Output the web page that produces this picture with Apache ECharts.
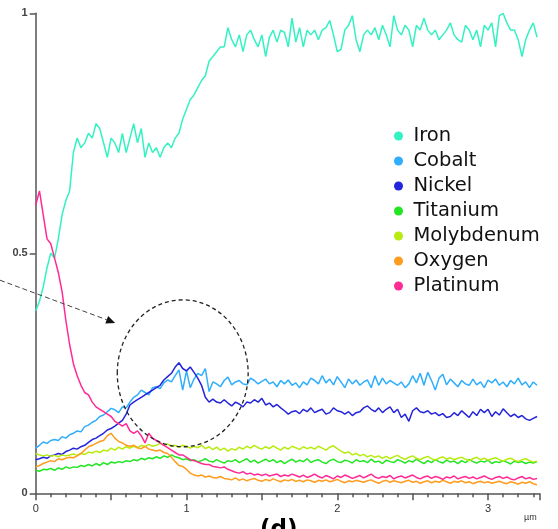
<!DOCTYPE html>
<html>
<head>
  <meta charset="utf-8">
  <title>Line scan profile</title>
  <script src="https://cdn.jsdelivr.net/npm/echarts@6/dist/echarts.min.js"></script>
  <style>
    html, body { margin: 0; padding: 0; background: #fff; }
  </style>
</head>
<body>
  <div id="main" style="width: 558px; height: 529px;"></div>

  <script>
    // sample spacing along the scan (µm)
    var step = 0.025;

    var names = ['Iron', 'Cobalt', 'Nickel', 'Titanium', 'Molybdenum', 'Oxygen', 'Platinum'];
    var colors = ['#33f2c2', '#2eaefc', '#2424dc', '#22e622', '#b8ec10', '#ff9c1e', '#ff2a96'];

    var iron = [0.38,0.40,0.43,0.47,0.50,0.49,0.53,0.58,0.61,0.63,
      0.71,0.74,0.72,0.73,0.75,0.74,0.77,0.76,0.73,0.70,
      0.74,0.73,0.71,0.75,0.71,0.74,0.77,0.73,0.76,0.70,
      0.73,0.71,0.72,0.70,0.72,0.73,0.72,0.74,0.75,0.78,
      0.80,0.82,0.83,0.845,0.86,0.87,0.90,0.91,0.92,0.93,
      0.93,0.97,0.945,0.93,0.955,0.92,0.955,0.965,0.945,0.93,
      0.955,0.91,0.95,0.965,0.94,0.965,0.96,0.93,0.99,0.94,
      0.97,0.93,0.965,0.955,0.965,0.945,0.965,0.97,0.985,0.955,
      0.92,0.925,0.965,0.975,0.995,0.945,0.92,0.955,0.965,0.955,
      0.97,0.945,0.975,0.955,0.93,0.995,0.965,0.955,0.975,0.965,
      0.93,0.975,0.965,0.99,0.965,0.955,0.965,0.945,0.955,0.965,
      0.98,0.955,0.945,0.94,0.975,0.965,0.945,0.965,0.93,0.975,
      0.965,0.98,0.93,0.995,1.0,0.98,0.965,0.965,0.945,0.91,
      0.945,0.965,0.98,0.95];

    var cobalt = [0.094,0.10,0.107,0.104,0.11,0.112,0.11,0.118,0.115,0.122,
      0.125,0.13,0.128,0.139,0.142,0.148,0.152,0.16,0.163,0.17,
      0.177,0.174,0.168,0.18,0.178,0.19,0.20,0.205,0.215,0.21,
      0.205,0.22,0.222,0.218,0.23,0.236,0.232,0.245,0.257,0.215,
      0.255,0.22,0.238,0.25,0.245,0.26,0.212,0.232,0.228,0.222,
      0.235,0.242,0.226,0.232,0.235,0.228,0.226,0.24,0.235,0.228,
      0.233,0.238,0.228,0.232,0.222,0.235,0.228,0.236,0.225,0.23,
      0.22,0.232,0.226,0.24,0.235,0.228,0.245,0.23,0.238,0.226,
      0.243,0.232,0.22,0.238,0.228,0.236,0.225,0.232,0.236,0.22,
      0.245,0.225,0.24,0.228,0.235,0.23,0.225,0.232,0.22,0.228,
      0.245,0.23,0.25,0.225,0.252,0.235,0.215,0.24,0.248,0.226,
      0.238,0.23,0.222,0.235,0.228,0.225,0.238,0.226,0.232,0.22,
      0.236,0.23,0.238,0.225,0.232,0.222,0.235,0.228,0.24,0.226,
      0.232,0.22,0.232,0.225];

    var nickel = [0.07,0.072,0.075,0.073,0.078,0.08,0.083,0.081,0.087,0.09,
      0.094,0.092,0.097,0.10,0.106,0.112,0.115,0.12,0.125,0.132,
      0.135,0.14,0.146,0.152,0.165,0.184,0.19,0.195,0.20,0.205,
      0.21,0.215,0.22,0.225,0.236,0.243,0.25,0.263,0.272,0.26,
      0.255,0.263,0.252,0.24,0.225,0.20,0.19,0.196,0.19,0.188,
      0.195,0.188,0.182,0.19,0.186,0.18,0.19,0.188,0.195,0.19,
      0.198,0.184,0.188,0.18,0.185,0.178,0.172,0.165,0.17,0.172,
      0.166,0.175,0.17,0.178,0.168,0.172,0.175,0.165,0.168,0.178,
      0.172,0.17,0.165,0.17,0.162,0.168,0.17,0.178,0.182,0.175,
      0.17,0.178,0.168,0.175,0.18,0.168,0.175,0.158,0.165,0.15,
      0.172,0.178,0.17,0.168,0.172,0.165,0.168,0.162,0.166,0.158,
      0.16,0.168,0.162,0.172,0.165,0.158,0.17,0.162,0.175,0.168,
      0.175,0.16,0.17,0.163,0.176,0.168,0.16,0.165,0.158,0.162,
      0.155,0.152,0.156,0.16];

    var titanium = [0.048,0.046,0.05,0.049,0.052,0.048,0.053,0.05,0.055,0.052,
      0.055,0.054,0.058,0.056,0.06,0.057,0.062,0.058,0.064,0.06,
      0.065,0.063,0.066,0.064,0.068,0.066,0.07,0.068,0.073,0.07,
      0.074,0.072,0.076,0.073,0.078,0.075,0.08,0.076,0.074,0.07,
      0.072,0.068,0.07,0.066,0.068,0.072,0.067,0.065,0.07,0.066,
      0.063,0.068,
      0.066,0.07,0.064,0.068,0.072,0.065,0.069,0.063,0.067,0.071,
      0.066,0.07,0.064,0.068,0.062,0.067,0.071,0.065,0.069,0.066,
      0.072,0.064,0.068,0.07,0.065,0.062,0.068,0.071,0.066,0.064,
      0.069,0.067,0.063,0.07,0.066,0.068,0.064,0.071,0.065,0.067,
      0.062,0.069,0.066,0.064,0.07,0.067,0.063,0.068,0.065,0.071,
      0.066,0.062,0.068,0.064,0.07,0.066,0.063,0.069,0.065,0.067,
      0.062,0.068,0.064,0.07,0.066,0.063,0.067,0.065,0.069,0.062,
      0.066,0.064,0.068,0.065,0.061,0.067,0.064,0.066,0.062,0.065,
      0.063,0.066];

    var molybdenum = [0.083,0.08,0.078,0.08,0.077,0.079,0.076,0.08,0.078,0.08,
      0.082,0.079,0.083,0.081,0.086,0.084,0.088,0.085,0.09,0.088,
      0.094,0.09,0.096,0.092,0.097,0.094,0.098,0.095,0.10,0.097,
      0.102,0.098,0.10,0.104,0.10,0.103,0.098,0.10,0.096,0.10,
      0.098,0.094,0.098,
      0.095,0.10,0.093,0.097,0.091,0.096,0.09,0.094,0.088,0.093,
      0.09,0.096,0.092,0.098,0.094,0.10,0.095,0.092,0.097,0.093,
      0.099,0.094,0.09,0.096,0.092,0.098,0.095,0.091,0.097,0.093,
      0.096,0.092,0.098,0.094,0.09,0.096,0.099,0.093,0.088,0.084,
      0.086,0.08,0.083,0.078,0.081,0.076,0.079,0.075,0.078,0.073,
      0.077,0.072,0.076,0.079,0.074,0.071,0.075,0.078,0.073,0.07,
      0.074,0.077,0.072,0.069,0.073,0.076,0.071,0.074,0.07,0.073,
      0.075,0.071,0.068,0.072,0.075,0.07,0.073,0.069,0.072,0.074,
      0.07,0.067,0.071,0.073,0.069,0.066,0.07,0.072,0.068,0.065,
      0.067];

    var oxygen = [0.055,0.058,0.062,0.065,0.068,0.066,0.072,0.07,0.073,0.075,
      0.074,0.078,0.083,0.09,0.097,0.10,0.104,0.108,0.11,0.12,
      0.125,0.115,0.108,0.105,0.10,0.098,0.10,0.095,0.093,0.098,
      0.092,0.09,0.088,0.09,0.085,0.083,0.075,0.066,0.058,0.056,
      0.05,0.042,0.038,0.036,0.038,0.034,0.036,0.033,0.032,0.035,
      0.031,
      0.03,0.028,0.032,0.027,0.03,0.026,0.029,0.031,0.027,0.025,
      0.029,0.026,0.03,0.027,0.024,0.028,0.026,0.029,0.025,0.027,
      0.024,0.028,0.026,0.023,0.027,0.025,0.028,0.024,0.026,0.029,
      0.025,0.022,0.026,0.024,0.027,0.025,0.023,0.026,0.028,0.024,
      0.021,0.025,0.027,0.023,0.026,0.024,0.022,0.025,0.027,0.023,
      0.025,0.021,0.024,0.026,0.022,0.025,0.023,0.027,0.024,0.021,
      0.025,0.023,0.026,0.022,0.024,0.02,0.023,0.025,0.022,0.024,
      0.021,0.023,0.025,0.022,0.02,0.024,0.022,0.019,0.023,0.021,
      0.024,0.02,0.018];

    var platinum = [0.60,0.63,0.58,0.53,0.52,0.49,0.46,0.42,0.36,0.31,
      0.27,0.245,0.225,0.21,0.205,0.19,0.18,0.175,0.17,0.165,
      0.16,0.15,0.145,0.14,0.145,0.13,0.125,0.13,0.12,0.105,
      0.125,0.115,0.11,0.105,0.10,0.095,0.09,0.085,0.08,0.08,
      0.075,0.07,0.068,0.065,0.062,0.06,0.06,0.056,0.055,0.053,
      0.055,0.05,0.047,0.044,0.042,0.045,0.04,0.042,0.038,0.04,
      0.037,0.04,0.036,0.038,0.04,0.035,0.038,0.036,0.04,0.037,
      0.034,0.038,0.033,0.036,0.04,0.035,0.032,0.037,0.034,0.03,
      0.036,0.033,0.038,0.035,0.031,0.034,0.037,0.032,0.036,0.04,
      0.034,0.031,0.035,0.033,0.037,0.03,0.034,0.036,0.032,0.035,
      0.038,0.033,0.03,0.034,0.036,0.031,0.035,0.033,0.029,0.034,
      0.032,0.036,0.03,0.033,0.035,0.031,0.034,0.03,0.033,0.036,
      0.032,0.029,0.033,0.035,0.031,0.034,0.03,0.028,0.032,0.035,
      0.03,0.033,0.029,0.031];

    var xTicks = ['0', '1', '2', '3'];

    // annotation: dashed ring round the Co/Ni peak and the arrow pointing at it (data units)
    var ring = { x: 0.975, y: 0.25, rx: 0.434, ry: 0.153 };
    var arrowFrom = [-0.237, 0.444];
    var arrowTo = [0.527, 0.355];

    var chart = echarts.init(document.getElementById('main'));

    function toPairs(vals) {
      return vals.map(function (v, i) { return [+(i * step).toFixed(3), v]; });
    }

    var seriesVals = [iron, cobalt, nickel, titanium, molybdenum, oxygen, platinum];

    var series = names.map(function (n, k) {
      return {
        name: n,
        type: 'line',
        showSymbol: false,
        symbol: 'circle',
        data: toPairs(seriesVals[k]),
        lineStyle: { width: 1.5, color: colors[k] },
        itemStyle: { color: colors[k] }
      };
    });

    var option = {
      animation: false,
      grid: { left: 35.7, right: 18.7, top: 13.3, bottom: 35.7 },
      legend: {
        orient: 'vertical',
        left: 394,
        top: 126,
        padding: 0,
        itemGap: 5,
        itemWidth: 20,
        itemHeight: 9,
        icon: 'circle',
        data: names,
        textStyle: {
          fontFamily: 'DejaVu Sans',
          fontSize: 19.5,
          lineHeight: 20,
          color: '#111',
          padding: [0, 0, 0, 0]
        }
      },
      xAxis: {
        type: 'value',
        min: 0,
        max: 3.34,
        interval: 0.5,
        axisLine: { lineStyle: { color: '#555', width: 1.5 } },
        axisTick: { length: 7, lineStyle: { color: '#555', width: 1.5 } },
        minorTick: { show: true, splitNumber: 5, length: 4, lineStyle: { color: '#555', width: 1.5 } },
        splitLine: { show: false },
        axisLabel: {
          margin: 10,
          fontFamily: 'Liberation Sans',
          fontSize: 11,
          color: '#333',
          showMaxLabel: false,
          formatter: function (v) {
            var idx = xTicks.indexOf(String(v));
            return idx >= 0 ? xTicks[idx] : '';
          }
        }
      },
      yAxis: {
        type: 'value',
        min: 0,
        max: 1,
        interval: 0.5,
        axisLine: { show: true, lineStyle: { color: '#555', width: 1.5 } },
        axisTick: { show: true, length: 6, lineStyle: { color: '#555', width: 1.5 } },
        splitLine: { show: false },
        axisLabel: {
          margin: 8,
          fontFamily: 'Liberation Sans',
          fontSize: 11,
          fontWeight: 'bold',
          color: '#444'
        }
      },
      series: series
    };

    chart.setOption(option);

    // place annotations through the grid's own coordinate system
    var c = chart.convertToPixel({ gridIndex: 0 }, [ring.x, ring.y]);
    var cx2 = chart.convertToPixel({ gridIndex: 0 }, [ring.x + ring.rx, ring.y]);
    var cy2 = chart.convertToPixel({ gridIndex: 0 }, [ring.x, ring.y + ring.ry]);
    var p0 = chart.convertToPixel({ gridIndex: 0 }, arrowFrom);
    var p1 = chart.convertToPixel({ gridIndex: 0 }, arrowTo);
    var dx = p1[0] - p0[0], dy = p1[1] - p0[1];
    var len = Math.sqrt(dx * dx + dy * dy);
    var ux = dx / len, uy = dy / len;
    var headL = 9, headW = 4;
    var bx = p1[0] - ux * headL, by = p1[1] - uy * headL;

    chart.setOption({
      graphic: [
        {
          type: 'ellipse',
          shape: { cx: c[0], cy: c[1], rx: cx2[0] - c[0], ry: c[1] - cy2[1] },
          style: { fill: null, stroke: '#222', lineWidth: 1.3, lineDash: [4, 3] },
          z: 100
        },
        {
          type: 'line',
          shape: { x1: p0[0], y1: p0[1], x2: bx, y2: by },
          style: { stroke: '#444', lineWidth: 1, lineDash: [5, 3] },
          z: 100
        },
        {
          type: 'polygon',
          shape: {
            points: [
              [p1[0], p1[1]],
              [bx - uy * headW, by + ux * headW],
              [bx + uy * headW, by - ux * headW]
            ]
          },
          style: { fill: '#111' },
          z: 100
        },
        {
          type: 'text',
          left: 524,
          top: 513,
          style: { text: 'µm', font: '9px "Liberation Sans"', fill: '#333' }
        },
        {
          type: 'text',
          left: 260,
          top: 519,
          style: { text: '(d)', font: 'bold 23px "DejaVu Sans"', fill: '#000' }
        }
      ]
    });
  </script>
</body>
</html>
